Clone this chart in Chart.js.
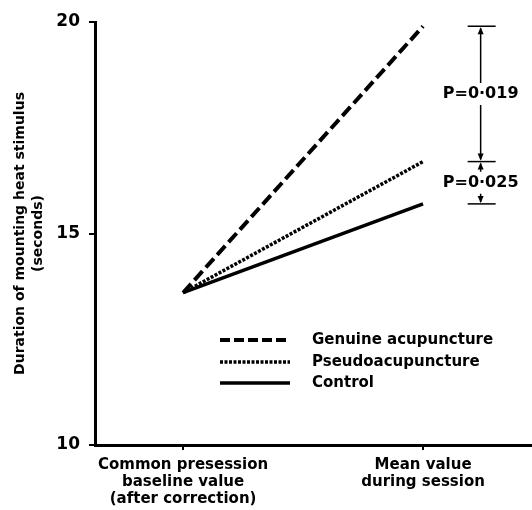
<!DOCTYPE html>
<html>
<head>
<meta charset="utf-8">
<script src="https://cdn.jsdelivr.net/npm/chart.js@4"></script>
<style>
  html, body { margin: 0; padding: 0; background: #fff; }
  #wrap { width: 532px; height: 510px; }
</style>
</head>
<body>
<div id="wrap"><canvas id="durChart"></canvas></div>
<script>
// x positions of the two time points and their labels
const categories = [0, 1];
const categoryLabels = [
    ["Common presession", "baseline value", "(after correction)"],
    ["Mean value", "during session"]
];
const seriesNames = ["Genuine acupuncture", "Pseudoacupuncture", "Control"];
const genuine = [13.6, 19.9];
const pseudo = [13.6, 16.7];
const control = [13.6, 15.7];
const yTicks = [10, 15, 20];
const pLabels = ["P=0·019", "P=0·025"];

const FONT = "'DejaVu Sans', sans-serif";

function toPoints(vals) {
    return vals.map((v, i) => ({ x: categories[i], y: v }));
}

// brackets with P values to the right of the end points + legend
const notesPlugin = {
    id: 'notes',
    afterDatasetsDraw(chart) {
        const ctx = chart.ctx;
        const xs = chart.scales.x, ys = chart.scales.y;
        const ends = [genuine[1], pseudo[1], control[1]];
        const bx = xs.getPixelForValue(1.24);
        ctx.save();
        ctx.strokeStyle = '#000';
        ctx.fillStyle = '#000';
        ctx.lineWidth = 1.5;
        ends.forEach(v => {
            const py = ys.getPixelForValue(v);
            ctx.beginPath();
            ctx.moveTo(bx - 13, py);
            ctx.lineTo(bx + 15, py);
            ctx.stroke();
        });
        ctx.font = "bold 16px " + FONT;
        ctx.textAlign = 'center';
        ctx.textBaseline = 'middle';
        for (let k = 0; k < 2; k++) {
            const y1 = ys.getPixelForValue(ends[k]);
            const y2 = ys.getPixelForValue(ends[k + 1]);
            const mid = (y1 + y2) / 2;
            const gap = 11;
            ctx.beginPath();
            ctx.moveTo(bx, y1 + 2);
            ctx.lineTo(bx, mid - gap);
            ctx.moveTo(bx, mid + gap);
            ctx.lineTo(bx, y2 - 2);
            ctx.stroke();
            // arrow heads
            [[y1 + 1, 1], [y2 - 1, -1]].forEach(([ay, d]) => {
                ctx.beginPath();
                ctx.moveTo(bx, ay);
                ctx.lineTo(bx - 3, ay + d * 7);
                ctx.lineTo(bx + 3, ay + d * 7);
                ctx.closePath();
                ctx.fill();
            });
            ctx.fillText(pLabels[k], bx, mid);
        }

        // legend
        const dashes = [[10, 4], [3, 1.5], []];
        const widths = [4, 3.5, 3.5];
        const lx = 220, tx = 312;
        const rows = [340, 362, 383];
        ctx.textAlign = 'left';
        ctx.font = "bold 15px " + FONT;
        seriesNames.forEach((name, i) => {
            ctx.setLineDash(dashes[i]);
            ctx.lineWidth = widths[i];
            ctx.beginPath();
            ctx.moveTo(lx, rows[i]);
            ctx.lineTo(lx + 70, rows[i]);
            ctx.stroke();
            ctx.setLineDash([]);
            ctx.fillText(name, tx, rows[i]);
        });
        ctx.restore();
    }
};

new Chart(document.getElementById('durChart'), {
    type: 'line',
    data: {
        datasets: [
            { label: seriesNames[0], data: toPoints(genuine), borderColor: '#000', borderWidth: 4, borderDash: [12, 5], pointRadius: 0 },
            { label: seriesNames[1], data: toPoints(pseudo), borderColor: '#000', borderWidth: 3.5, borderDash: [3, 1.5], pointRadius: 0 },
            { label: seriesNames[2], data: toPoints(control), borderColor: '#000', borderWidth: 3.5, pointRadius: 0 }
        ]
    },
    plugins: [notesPlugin],
    options: {
        responsive: true,
        maintainAspectRatio: false,
        animation: false,
        layout: { padding: { top: 22, right: 0, left: 0, bottom: 0 } },
        plugins: { legend: { display: false }, tooltip: { enabled: false } },
        scales: {
            x: {
                type: 'linear',
                min: -0.367,
                max: 1.454,
                afterBuildTicks(scale) { scale.ticks = categories.map(v => ({ value: v })); },
                afterFit(scale) { scale.height = 65; },
                ticks: {
                    color: '#000',
                    font: { family: FONT, size: 15, weight: 'bold', lineHeight: 1.13 },
                    padding: 7,
                    maxRotation: 0,
                    autoSkip: false,
                    callback: (v) => categoryLabels[categories.indexOf(v)]
                },
                grid: { drawOnChartArea: false, drawTicks: true, tickLength: 5, color: '#000', lineWidth: 2 },
                border: { color: '#000', width: 3 }
            },
            y: {
                min: 10,
                max: 20,
                afterBuildTicks(scale) { scale.ticks = yTicks.map(v => ({ value: v })); },
                afterFit(scale) { scale.width = 95; },
                ticks: {
                    color: '#000',
                    font: { family: FONT, size: 17, weight: 'bold' },
                    padding: 9
                },
                grid: { drawOnChartArea: false, drawTicks: true, tickLength: 6, color: '#000', lineWidth: 2 },
                border: { color: '#000', width: 3 },
                title: {
                    display: true,
                    text: ["Duration of mounting heat stimulus", "(seconds)"],
                    color: '#000',
                    font: { family: FONT, size: 14, weight: 'bold', lineHeight: 1.3 },
                    padding: { top: 11, bottom: 0 }
                }
            }
        }
    }
});
</script>
</body>
</html>
